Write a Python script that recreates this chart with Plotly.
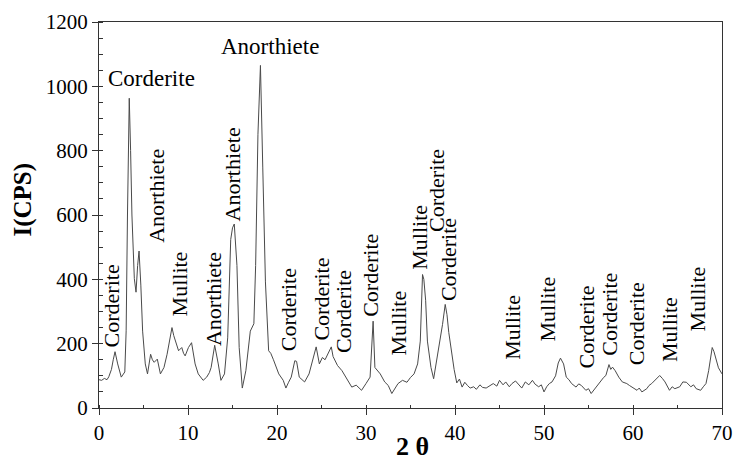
import plotly.graph_objects as go

two_theta = [
    0.0, 0.3, 0.6, 0.9, 1.1, 1.4, 1.6, 1.8, 2.1, 2.5, 2.9, 3.05, 3.2, 3.4, 3.55, 3.7, 3.97, 4.16, 4.34, 4.5,
    4.7, 4.9, 5.2, 5.45, 5.8, 6.0, 6.2, 6.55, 6.9, 7.3, 7.65, 7.9, 8.2, 8.4, 8.6, 8.94, 9.3, 9.5, 9.68, 10.05,
    10.4, 10.8, 11.15, 11.4, 11.7, 12.1, 12.4, 12.6, 13.0, 13.4, 13.7, 14.1, 14.46, 14.8, 15.0, 15.2, 15.5, 15.75, 16.1, 16.5,
    16.8, 17.0, 17.4, 17.6, 17.86, 18.14, 18.4, 18.7, 19.06, 19.3, 19.6, 19.9, 20.2, 20.7, 21.0, 21.3, 21.6, 22.0, 22.2, 22.5,
    23.1, 23.6, 24.2, 24.4, 24.76, 25.1, 25.4, 25.7, 26.1, 26.3, 26.8, 27.3, 27.8, 28.4, 28.9, 29.5, 30.0, 30.46, 30.8, 31.0,
    31.6, 32.1, 32.5, 32.9, 33.6, 34.1, 34.6, 35.0, 35.4, 35.8, 36.1, 36.35, 36.5, 36.7, 36.9, 37.3, 37.6, 38.0, 38.3, 38.6,
    38.9, 39.1, 39.3, 39.6, 39.9, 40.2, 40.5, 40.8, 41.1, 41.4, 41.7, 42.1, 42.4, 42.8, 43.1, 43.5, 43.9, 44.3, 44.7, 45.0,
    45.4, 45.7, 46.1, 46.4, 46.8, 47.2, 47.5, 47.9, 48.3, 48.7, 49.0, 49.4, 49.7, 50.0, 50.3, 50.6, 50.9, 51.3, 51.6, 51.85,
    52.2, 52.5, 52.8, 53.1, 53.6, 53.9, 54.2, 54.7, 55.0, 55.3, 55.85, 56.1, 56.4, 56.7, 56.95, 57.3, 57.5, 57.7, 58.0, 58.4,
    58.8, 59.3, 59.6, 59.9, 60.45, 60.7, 61.0, 61.55, 61.8, 62.1, 62.5, 63.0, 63.3, 63.6, 64.1, 64.4, 64.7, 65.25, 65.6, 66.0,
    66.5, 66.8, 67.1, 67.6, 67.9, 68.2, 68.5, 68.9, 69.1, 69.3, 69.6, 70.0,
]

intensity = [
    88, 86, 92, 88, 97, 120, 150, 175, 137, 96, 112, 240, 600, 963, 800, 600, 402, 360, 443, 488,
    382, 239, 137, 106, 167, 150, 142, 152, 106, 126, 167, 200, 250, 225, 208, 178, 188, 170, 162, 188,
    203, 137, 106, 95, 86, 96, 110, 126, 195, 137, 86, 106, 218, 524, 560, 572, 443, 188, 62, 116,
    180, 239, 262, 443, 851, 1065, 749, 392, 178, 170, 150, 130, 106, 86, 62, 80, 96, 147, 145, 96,
    81, 106, 167, 190, 137, 157, 150, 167, 190, 160, 132, 116, 91, 65, 71, 55, 76, 96, 270, 126,
    106, 81, 70, 45, 76, 86, 80, 95, 106, 137, 208, 415, 400, 335, 208, 126, 91, 157, 200, 260,
    322, 290, 235, 170, 120, 78, 90, 65, 80, 70, 62, 66, 58, 72, 64, 62, 70, 76, 68, 86,
    72, 81, 66, 76, 84, 70, 62, 81, 72, 86, 74, 66, 72, 50, 66, 76, 81, 100, 140, 155,
    137, 96, 88, 76, 65, 75, 70, 55, 60, 45, 65, 72, 86, 95, 101, 135, 120, 127, 116, 96,
    81, 76, 70, 65, 55, 62, 50, 60, 70, 76, 86, 101, 92, 81, 55, 66, 60, 66, 81, 80,
    66, 72, 60, 55, 66, 76, 116, 188, 175, 157, 125, 106,
]

# Phase labels: text, 2theta position, intensity position, orientation angle
label_text = [
    "Corderite", "Anorthiete", "Mullite", "Anorthiete", "Anorthiete", "Corderite", "Corderite",
    "Corderite", "Corderite", "Mullite", "Mullite", "Corderite", "Corderite", "Mullite", "Mullite",
    "Corderite", "Corderite", "Corderite", "Mullite", "Mullite", "Corderite", "Anorthiete",
]
label_x = [
    1.43, 6.46, 9.05, 12.86, 15.01, 21.30, 25.05, 27.48, 30.41, 33.61, 35.98, 37.91, 39.29,
    46.47, 50.44, 54.75, 57.34, 60.43, 64.02, 67.28, 5.85, 19.2,
]
label_y = [
    318, 661, 386, 340, 725, 306, 340, 300, 413, 263, 530, 676, 462,
    251, 309, 251, 291, 263, 245, 340, 1025, 1123,
]
label_angle = [-90] * 20 + [0, 0]

x_ticks = [0, 10, 20, 30, 40, 50, 60, 70]
y_ticks = [0, 200, 400, 600, 800, 1000, 1200]

SERIF = "Liberation Serif, Times New Roman, serif"

fig = go.Figure()
fig.add_trace(go.Scatter(
    x=two_theta, y=intensity, mode="lines",
    line=dict(color="#4a4a4a", width=1),
    showlegend=False, hoverinfo="skip",
))

for t, x, y, a in zip(label_text, label_x, label_y, label_angle):
    fig.add_annotation(
        x=x, y=y, xref="x", yref="y", text=t, showarrow=False,
        textangle=a, xanchor="center", yanchor="middle",
        font=dict(family=SERIF, size=22 if a != 0 else 23, color="black"),
    )

fig.add_annotation(
    x=-0.122, y=0.54, xref="paper", yref="paper", text="<b>I(CPS)</b>",
    showarrow=False, textangle=-90, xanchor="center", yanchor="middle",
    font=dict(family=SERIF, size=25, color="black"),
)
fig.add_annotation(
    x=0.503, y=-0.10, xref="paper", yref="paper", text="<b>2 θ</b>",
    showarrow=False, xanchor="center", yanchor="middle",
    font=dict(family=SERIF, size=26, color="black"),
)

axis_common = dict(
    showline=True, mirror=True, linecolor="#333333", linewidth=1,
    showgrid=False, zeroline=False, ticks="outside", ticklen=6,
    tickcolor="#333333", tickfont=dict(family=SERIF, size=21, color="black"),
)

fig.update_xaxes(
    range=[0, 70], tickvals=x_ticks, ticktext=[str(v) for v in x_ticks],
    minor=dict(ticks="inside", ticklen=3, dtick=5, tickcolor="#333333"),
    **axis_common,
)
fig.update_yaxes(
    range=[0, 1200], tickvals=y_ticks, ticktext=[str(v) for v in y_ticks],
    minor=dict(ticks="inside", ticklen=4, dtick=50, tickcolor="#333333"),
    **axis_common,
)

fig.update_layout(
    width=743, height=469,
    margin=dict(l=99, r=10, t=16, b=61),
    paper_bgcolor="white", plot_bgcolor="white",
)

fig.write_html("out.html")
